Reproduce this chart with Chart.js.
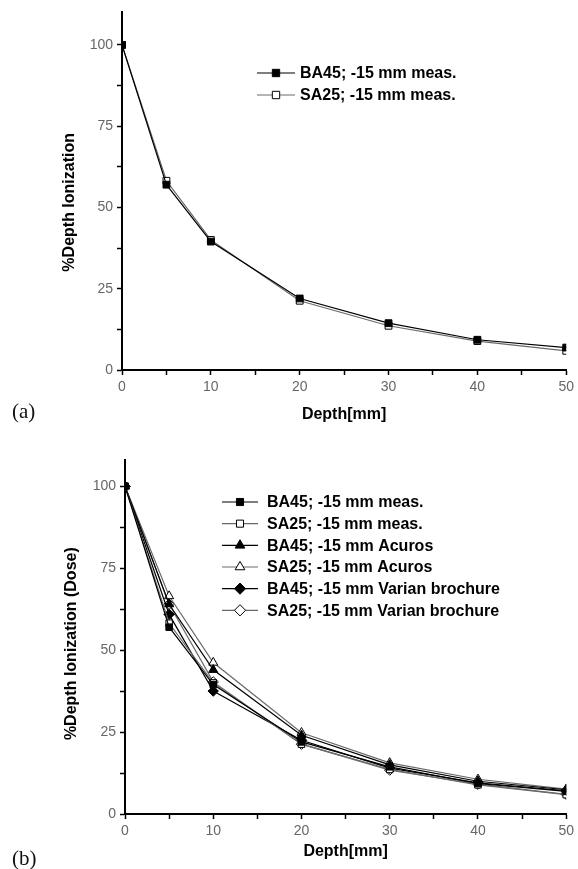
<!DOCTYPE html>
<html>
<head>
<meta charset="utf-8">
<title>Depth ionization</title>
<script src="https://cdn.jsdelivr.net/npm/chart.js@4/dist/chart.umd.min.js"></script>
<style>
  html, body { margin: 0; padding: 0; background: #fff; }
  body { width: 578px; height: 869px; position: relative; overflow: hidden; }
  .wrap { position: absolute; left: 0; width: 578px; }
  #wrapA { top: 0; height: 430px; }
  #wrapB { top: 430px; height: 439px; }
  .tag { position: absolute; left: 12px; font-family: "Liberation Serif", "Times New Roman", serif; font-size: 21px; color: #111; }
</style>
</head>
<body>
<div class="wrap" id="wrapA"><canvas id="chartA"></canvas></div>
<div class="wrap" id="wrapB"><canvas id="chartB"></canvas></div>
<div class="tag" style="top:399px">(a)</div>
<div class="tag" style="top:846px">(b)</div>
<script>
// depth in mm
const depths = [0, 5, 10, 20, 30, 40, 50];

// % depth ionization
const ba45Meas = [100, 57.0, 39.5, 22.0, 14.4, 9.3, 6.9];
const sa25Meas = [100, 58.2, 40.0, 21.3, 13.6, 8.9, 5.9];
const ba45Acuros = [100, 64.0, 44.0, 24.0, 15.0, 10.0, 7.4];
const sa25Acuros = [100, 66.5, 46.2, 24.8, 15.6, 10.6, 7.6];
const ba45Varian = [100, 60.9, 37.5, 22.5, 14.0, 9.5, 7.1];
const sa25Varian = [100, 64.0, 40.3, 21.3, 13.4, 9.1, 6.0];

const labelsA = ['BA45; -15 mm meas.', 'SA25; -15 mm meas.'];
const labelsB = ['BA45; -15 mm meas.', 'SA25; -15 mm meas.', 'BA45; -15 mm Acuros',
                 'SA25; -15 mm Acuros', 'BA45; -15 mm Varian brochure', 'SA25; -15 mm Varian brochure'];

const xTicks = [0, 10, 20, 30, 40, 50];
const yTicks = [0, 25, 50, 75, 100];

const FONT = '"Liberation Sans", Arial, sans-serif';

const toXY = (vals) => vals.map((v, i) => ({ x: depths[i], y: v }));

function series(label, vals, style, filled, radius) {
    return {
        label: label,
        data: toXY(vals),
        borderColor: filled ? '#000' : '#6a6a6a',
        borderWidth: 1.2,
        pointStyle: style,
        pointRadius: radius,
        pointHoverRadius: radius,
        pointBackgroundColor: filled ? '#000' : '#fff',
        pointBorderColor: '#000',
        pointBorderWidth: 1,
        tension: 0,
        fill: false,
    };
}

// legend drawn as  —■— label  like the original
const lineLegend = {
    id: 'lineLegend',
    afterDatasetsDraw(chart, args, opts) {
        const ctx = chart.ctx;
        ctx.save();
        chart.data.datasets.forEach((ds, i) => {
            const y = opts.top + i * opts.gap;
            ctx.strokeStyle = ds.borderColor;
            ctx.lineWidth = 1.2;
            ctx.beginPath();
            ctx.moveTo(opts.x - opts.half, y);
            ctx.lineTo(opts.x + opts.half, y);
            ctx.stroke();
            ctx.fillStyle = ds.pointBackgroundColor;
            ctx.strokeStyle = '#000';
            ctx.lineWidth = 1;
            Chart.helpers.drawPoint(ctx, { pointStyle: ds.pointStyle, radius: ds.pointRadius + 0.4, rotation: 0, borderWidth: 1 }, opts.x, y);
            ctx.fillStyle = '#000';
            ctx.font = 'bold 16px ' + FONT;
            ctx.textBaseline = 'middle';
            ctx.textAlign = 'left';
            ctx.fillText(ds.label, opts.textX, y + 1);
        });
        ctx.restore();
    }
};

function axes(yMax, yTitle, yTitlePad, xTitlePad, xHeight) {
    const tickFont = { family: FONT, size: 14 };
    return {
        x: {
            type: 'linear',
            min: 0, max: 50,
            afterFit: (s) => { s.height = xHeight; },
            border: { display: true, color: '#000', width: 2 },
            grid: { drawOnChartArea: false, drawTicks: true, tickLength: 5, tickColor: '#000', tickWidth: 1.5 },
            ticks: {
                stepSize: 5,
                includeBounds: false,
                padding: 4,
                color: '#666',
                font: tickFont,
                maxRotation: 0,
                autoSkip: false,
                callback: (v) => xTicks.includes(v) ? String(v) : '',
            },
            title: { display: true, text: 'Depth[mm]', color: '#000', font: { family: FONT, size: 16, weight: 'bold' }, padding: { top: 0, bottom: xTitlePad } },
        },
        y: {
            type: 'linear',
            min: 0, max: yMax,
            afterFit: (s) => { s.width = 122; },
            border: { display: true, color: '#000', width: 2 },
            grid: { drawOnChartArea: false, drawTicks: true, tickLength: 5, tickColor: '#000', tickWidth: 1.5 },
            ticks: {
                stepSize: 12.5,
                includeBounds: false,
                padding: 4,
                color: '#666',
                font: tickFont,
                autoSkip: false,
                callback: (v) => yTicks.includes(v) ? String(v) : '',
            },
            // trailing spaces push the title a little below the axis middle, as in the original
            title: { display: true, text: yTitle, color: '#000', font: { family: FONT, size: 16, weight: 'bold' }, padding: { top: yTitlePad, bottom: 0 } },
        },
    };
}

Chart.defaults.animation = false;

new Chart(document.getElementById('chartA'), {
    type: 'line',
    data: {
        datasets: [
            series(labelsA[0], ba45Meas, 'rect', true, 4.8),
            series(labelsA[1], sa25Meas, 'rect', false, 4.8),
        ],
    },
    options: {
        responsive: true,
        maintainAspectRatio: false,
        layout: { padding: { left: 0, top: 10, right: 10, bottom: 0 } },
        plugins: {
            legend: { display: false },
            tooltip: { enabled: false },
            lineLegend: { x: 276, half: 19, textX: 300, top: 73, gap: 22 },
        },
        scales: axes(110, '%Depth Ionization     ', 60, 5.5, 60),
    },
    plugins: [lineLegend],
});

new Chart(document.getElementById('chartB'), {
    type: 'line',
    data: {
        datasets: [
            series(labelsB[0], ba45Meas, 'rect', true, 4.6),
            series(labelsB[1], sa25Meas, 'rect', false, 4.6),
            series(labelsB[2], ba45Acuros, 'triangle', true, 5.2),
            series(labelsB[3], sa25Acuros, 'triangle', false, 5.2),
            series(labelsB[4], ba45Varian, 'rectRot', true, 5.2),
            series(labelsB[5], sa25Varian, 'rectRot', false, 5.2),
        ],
    },
    options: {
        responsive: true,
        maintainAspectRatio: false,
        layout: { padding: { left: 3, top: 30, right: 7, bottom: 0 } },
        plugins: {
            legend: { display: false },
            tooltip: { enabled: false },
            lineLegend: { x: 240, half: 18, textX: 267, top: 72, gap: 21.66 },
        },
        scales: axes(108, '%Depth Ionization (Dose)   ', 59, 7.5, 55),
    },
    plugins: [lineLegend],
});
</script>
</body>
</html>
